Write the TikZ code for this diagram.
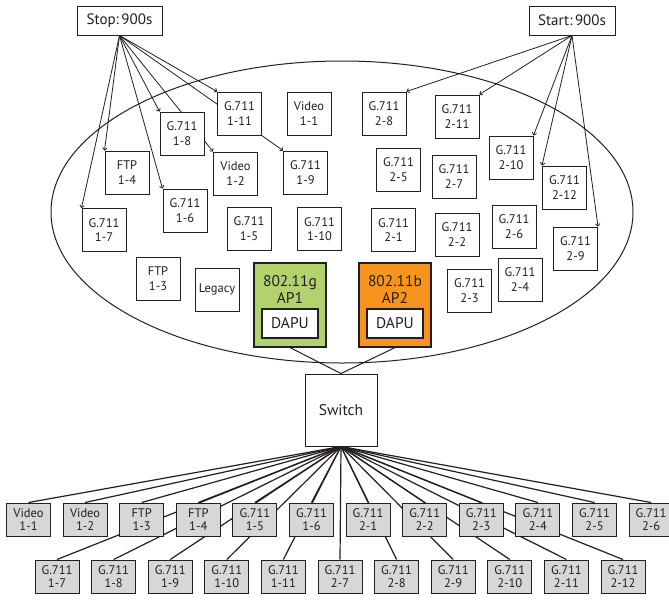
\documentclass[tikz,border=0pt]{standalone}
\usepackage{fontspec}
\setmainfont{PT Sans}
\usetikzlibrary{arrows.meta,backgrounds}
\definecolor{ink}{HTML}{231F20}
\definecolor{apgreen}{HTML}{B2D26E}
\definecolor{aporange}{HTML}{F7941E}
\definecolor{cellgray}{HTML}{D7D7D7}
\begin{document}
\begin{tikzpicture}[x=1pt,y=-1pt,
  every node/.style={text=ink},
  cell/.style={draw=ink, line width=1pt, fill=white, minimum width=44pt, minimum height=43pt, inner sep=0pt, align=center, font=\fontsize{12.5}{14.3}\selectfont},
  bcell/.style={draw=ink, line width=1pt, fill=cellgray, minimum width=44pt, minimum height=33pt, inner sep=0pt, align=center, font=\fontsize{12.5}{13.5}\selectfont},
  timer/.style={draw=ink, line width=1pt, fill=white, minimum height=29pt, inner sep=0pt, font=\fontsize{15}{17}\selectfont},
  apbox/.style={draw=ink, line width=1.2pt, minimum width=72pt, minimum height=84pt, inner sep=0pt},
  dapu/.style={draw=ink, line width=1.2pt, fill=white, minimum width=56pt, minimum height=29pt, inner sep=0pt, font=\fontsize{15.5}{17}\selectfont},
  aplabel/.style={align=center, inner sep=0pt, font=\fontsize{15.5}{17}\selectfont},
  conn/.style={draw=ink, line width=0.8pt},
  arr/.style={conn, -{To[length=3pt,width=5pt]}},
  fan/.style={draw=ink, line width=1.2pt},
]
\useasboundingbox (0,0) rectangle (669,600);

% timers
\node[timer, minimum width=85pt] (stop) at (119.5,20.5) {Stop:\,900s};
\node[timer, minimum width=86pt] (start) at (572,20.5) {Start:\,900s};

% cells inside the ellipse
\node[cell] (c18)  at (182,133.5)  {G.711\\1-8};
\node[cell] (c111) at (239.5,113.5){G.711\\1-11};
\node[cell] (v11)  at (309,113.5)  {Video\\1-1};
\node[cell] (f14)  at (127,172.5)  {FTP\\1-4};
\node[cell] (v12)  at (235.5,173.5){Video\\1-2};
\node[cell] (c19)  at (305.5,172.5){G.711\\1-9};
\node[cell] (c17)  at (104,230)    {G.711\\1-7};
\node[cell] (c16)  at (185,210.5)  {G.711\\1-6};
\node[cell] (c15)  at (249,228.5)  {G.711\\1-5};
\node[cell] (c110) at (319.5,229)  {G.711\\1-10};
\node[cell] (f13)  at (158,278.5)  {FTP\\1-3};
\node[cell] (leg)  at (217,289.5)  {Legacy};
\node[cell] (c28)  at (384,113.5)  {G.711\\2-8};
\node[cell] (c211) at (457,116.5)  {G.711\\2-11};
\node[cell] (c25)  at (398.5,169.5){G.711\\2-5};
\node[cell] (c27)  at (454,176.5)  {G.711\\2-7};
\node[cell] (c210) at (511,157.5)  {G.711\\2-10};
\node[cell] (c212) at (564.5,187.5){G.711\\2-12};
\node[cell] (c21)  at (393.5,230)  {G.711\\2-1};
\node[cell] (c22)  at (457,234.5)  {G.711\\2-2};
\node[cell] (c26)  at (514,226.5)  {G.711\\2-6};
\node[cell] (c29)  at (575.5,248.5){G.711\\2-9};
\node[cell] (c23)  at (469.5,290.5){G.711\\2-3};
\node[cell] (c24)  at (520,279.5)  {G.711\\2-4};

% access points
\node[apbox, fill=apgreen] (ap1) at (290,305) {};
\node[aplabel] (ap1t) at (290,289) {802.11g\\AP1};
\node[dapu] (d1) at (290,323.5) {DAPU};
\node[apbox, fill=aporange] (ap2) at (395,305) {};
\node[aplabel] (ap2t) at (395,289) {802.11b\\AP2};
\node[dapu] (d2) at (395,323.5) {DAPU};

% switch
\node[draw=ink, line width=1pt, fill=white, minimum width=72pt, minimum height=72pt, inner sep=0pt, font=\fontsize{15.5}{17}\selectfont] (sw) at (341,410) {Switch};

% bottom rows
\foreach \t/\n [count=\i from 0] in {Video/1-1,Video/1-2,FTP/1-3,FTP/1-4,G.711/1-5,G.711/1-6,G.711/2-1,G.711/2-2,G.711/2-3,G.711/2-4,G.711/2-5,G.711/2-6}
  \node[bcell] (ra\i) at ({28.5+56.6*\i},519.5) {\t\\\n};
\foreach \n [count=\i from 0] in {1-7,1-8,1-9,1-10,1-11,2-7,2-8,2-9,2-10,2-11,2-12}
  \node[bcell] (rb\i) at ({57+56.6*\i},576.5) {G.711\\\n};

\begin{scope}[on background layer]
  \draw[ink, line width=1pt] (342,212) ellipse [x radius=291, y radius=151];
  % stop arrows
  \draw[arr] (stop.south) -- (c111.north west);
  \draw[arr] (stop.south) -- (c19.north west);
  \draw[arr] (stop.south) -- (c18.north west);
  \draw[arr] (stop.south) -- (v12.north west);
  \draw[arr] (stop.south) -- (c16.north west);
  \draw[arr] (stop.south) -- (f14.north west);
  \draw[arr] (stop.south) -- (c17.north west);
  % start arrows
  \draw[arr] (start.south) -- (c28.north east);
  \draw[arr] (start.south) -- (c211.north east);
  \draw[arr] (start.south) -- (c210.north east);
  \draw[arr] (start.south) -- (c212.north west);
  \draw[arr] (start.south) -- (c29.north east);
  % APs to switch
  \draw[conn, line width=1pt] (ap1.south) -- (sw.north);
  \draw[conn, line width=1pt] (ap2.south) -- (sw.north);
  % fan
  \foreach \i in {0,...,11} \draw[fan] (sw.south) -- (ra\i.north);
  \foreach \i in {0,...,10} \draw[fan] (sw.south) -- (rb\i.north);
\end{scope}
\end{tikzpicture}
\end{document}
